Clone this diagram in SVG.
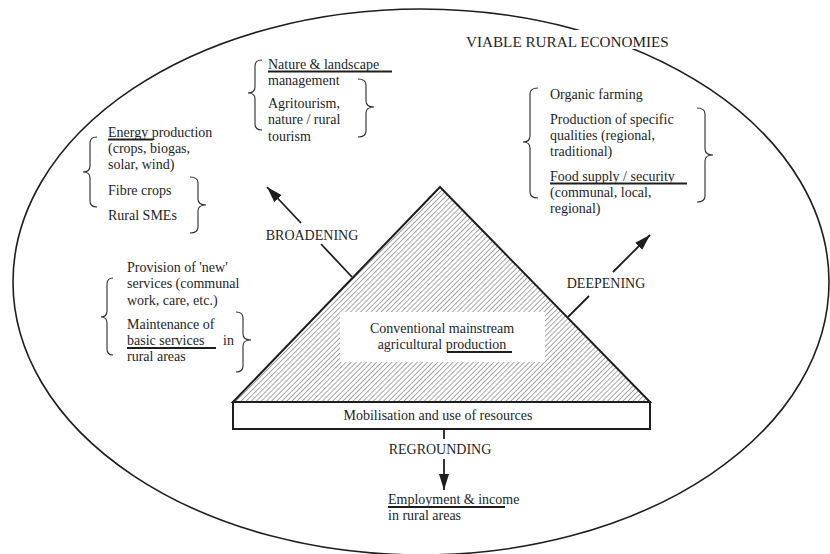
<svg xmlns="http://www.w3.org/2000/svg" width="830" height="554" viewBox="0 0 830 554">
<style>
text{font-family:"Liberation Serif","Times New Roman",serif;font-size:14px;fill:#1e1e1e}
.c{text-anchor:middle}
.t{font-size:15.2px}
.ul{stroke:#1e1e1e;stroke-width:1.8;fill:none}
.br{stroke:#2a2a2a;stroke-width:1.1;fill:none}
.ln{stroke:#1e1e1e;stroke-width:1.8;fill:none}
</style>
<defs>
<pattern id="hatch" width="3.6" height="10" patternUnits="userSpaceOnUse" patternTransform="rotate(45)">
<line x1="0" y1="0" x2="0" y2="10" stroke="#333" stroke-width="0.9"/>
</pattern>
<marker id="ah" viewBox="0 0 16 10" refX="16" refY="5" markerWidth="16" markerHeight="10" markerUnits="userSpaceOnUse" orient="auto">
<path d="M0,0 L16,5 L0,10 z" fill="#1e1e1e"/>
</marker>
</defs>
<rect width="830" height="554" fill="#fff"/>
<g id="frame">
<ellipse cx="421" cy="282" rx="408" ry="273" fill="none" stroke="#1e1e1e" stroke-width="1.6"/>
<rect x="464" y="30" width="210" height="19" fill="#fff"/>
<text class="t" x="466" y="47">VIABLE RURAL ECONOMIES</text>
</g>
<g id="triangle">
<polygon points="233,402 440,187 650,402" fill="url(#hatch)" stroke="#1e1e1e" stroke-width="2"/>
<rect x="340" y="312" width="205" height="50" fill="#fff"/>
<text class="c" x="442" y="333">Conventional mainstream</text>
<text class="c" x="442" y="349">agricultural  production</text>
<line class="ul" x1="447" y1="352" x2="512" y2="352"/>
</g>
<g id="base">
<rect x="233" y="402" width="417" height="27" fill="#fff" stroke="#1e1e1e" stroke-width="2"/>
<text class="c" x="438" y="420">Mobilisation and use of resources</text>
</g>
<g id="box-nature">
<path class="br" d="M262,60 Q255,60 255,66 L255,87 Q255,93 248,93 Q255,93 255,99 L255,124 Q255,130 262,130"/>
<path class="br" d="M358,79 Q366,79 366,85 L366,101 Q366,107 374,107 Q366,107 366,113 L366,131 Q366,137 358,137"/>
<text x="268" y="69">Nature &amp; landscape</text>
<line class="ul" x1="268" y1="71.5" x2="392" y2="71.5"/>
<text x="268" y="85">management</text>
<text x="268" y="108">Agritourism,</text>
<text x="268" y="124">nature / rural</text>
<text x="268" y="141">tourism</text>
</g>
<g id="box-energy">
<path class="br" d="M97,137 Q90,137 90,143 L90,166 Q90,172 83,172 Q90,172 90,178 L90,201 Q90,207 97,207"/>
<path class="br" d="M190,177 Q198,177 198,183 L198,199 Q198,205 206,205 Q198,205 198,211 L198,227 Q198,233 190,233"/>
<text x="108" y="137">Energy  production</text>
<line class="ul" x1="108" y1="139.5" x2="153" y2="139.5"/>
<text x="108" y="153">(crops, biogas,</text>
<text x="108" y="169">solar, wind)</text>
<text x="108" y="195">Fibre crops</text>
<text x="108" y="220">Rural SMEs</text>
</g>
<g id="box-organic">
<path class="br" d="M538,88 Q530,88 530,94 L530,136 Q530,142 523,142 Q530,142 530,148 L530,192 Q530,198 538,198"/>
<path class="br" d="M697,108 Q705,108 705,114 L705,149 Q705,155 713,155 Q705,155 705,161 L705,196 Q705,202 697,202"/>
<text x="550" y="99">Organic farming</text>
<text x="550" y="124">Production of specific</text>
<text x="550" y="140">qualities (regional,</text>
<text x="550" y="156">traditional)</text>
<text x="550" y="181">Food supply / security</text>
<line class="ul" x1="550" y1="183.5" x2="687" y2="183.5"/>
<text x="550" y="197">(communal, local,</text>
<text x="550" y="213">regional)</text>
</g>
<g id="box-services">
<path class="br" d="M113,278 Q107,278 107,284 L107,311 Q107,317 101,317 Q107,317 107,323 L107,349 Q107,355 113,355"/>
<path class="br" d="M236,312 Q243,312 243,318 L243,334 Q243,340 251,340 Q243,340 243,346 L243,366 Q243,372 236,372"/>
<text x="127" y="272">Provision of 'new'</text>
<text x="127" y="288">services (communal</text>
<text x="127" y="305">work, care, etc.)</text>
<text x="127" y="329">Maintenance of</text>
<text x="127" y="345">basic services</text>
<text x="223" y="345">in</text>
<line class="ul" x1="127" y1="348" x2="216" y2="348"/>
<text x="127" y="361">rural areas</text>
</g>
<g id="employment">
<text x="388" y="504">Employment &amp; income</text>
<line class="ul" x1="388" y1="507" x2="505" y2="507"/>
<text x="388" y="520">in rural areas</text>
</g>
<g id="connectors">
<line class="ln" x1="352" y1="277" x2="321" y2="244"/>
<line class="ln" x1="301" y1="223" x2="267" y2="187" marker-end="url(#ah)"/>
<text class="c" x="312" y="240">BROADENING</text>
<line class="ln" x1="568" y1="317" x2="589" y2="296"/>
<line class="ln" x1="613" y1="272" x2="650" y2="235" marker-end="url(#ah)"/>
<text class="c" x="606" y="288">DEEPENING</text>
<line class="ln" x1="444" y1="429" x2="444" y2="439"/>
<line class="ln" x1="444" y1="459" x2="444" y2="490" marker-end="url(#ah)"/>
<text class="c" x="440" y="454">REGROUNDING</text>
</g>
</svg>
